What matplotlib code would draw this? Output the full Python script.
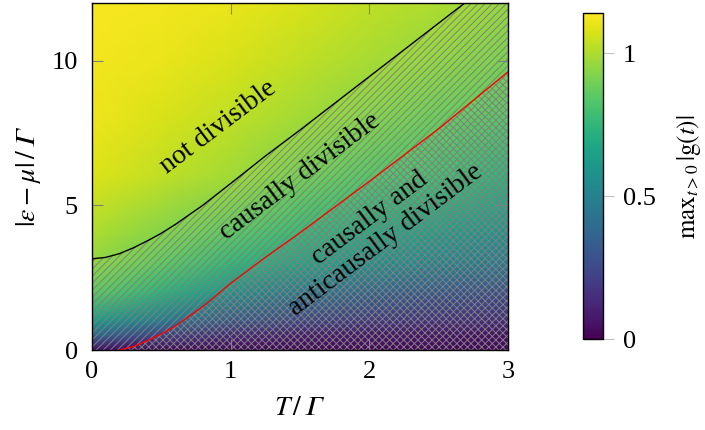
import numpy as np
import matplotlib
matplotlib.use("Agg")
import matplotlib.pyplot as plt

# ---- data ----
T_grid = [0.0, 0.5, 1.0, 1.5, 2.0, 2.5, 3.0]
E_grid = [0.0, 0.5, 1.0, 2.0, 3.0, 4.0, 6.0, 8.0, 10.0, 12.0]
gmax = [
    [0.05, 0.03, 0.02, 0.02, 0.02, 0.02, 0.02],
    [0.38, 0.22, 0.13, 0.09, 0.07, 0.06, 0.05],
    [0.62, 0.47, 0.32, 0.24, 0.19, 0.16, 0.14],
    [0.86, 0.74, 0.60, 0.48, 0.38, 0.32, 0.28],
    [0.95, 0.86, 0.76, 0.68, 0.60, 0.53, 0.47],
    [1.00, 0.93, 0.85, 0.77, 0.70, 0.64, 0.58],
    [1.08, 1.03, 0.98, 0.90, 0.84, 0.80, 0.74],
    [1.11, 1.07, 1.03, 0.98, 0.93, 0.88, 0.84],
    [1.12, 1.10, 1.07, 1.03, 0.99, 0.95, 0.91],
    [1.13, 1.12, 1.10, 1.07, 1.03, 1.00, 0.96],
]

T_bound = [0.0, 0.1, 0.2, 0.3, 0.4, 0.5, 0.6, 0.8, 1.0, 1.25, 1.5, 2.0, 2.5, 3.0]
causal_bound = [3.15, 3.2, 3.33, 3.53, 3.77, 4.03, 4.33, 5.0, 5.75, 6.7, 7.6, 9.45, 11.3, 13.15]
anticausal_bound = [0.0, 0.0, 0.0, 0.12, 0.32, 0.55, 0.82, 1.5, 2.3, 3.2, 4.05, 5.83, 7.65, 9.62]

x_ticks = [0, 1, 2, 3]
y_ticks = [0, 5, 10]
cbar_ticks = [0, 0.5, 1]
cbar_ticklabels = ["0", "0.5", "1"]

# ---- style ----
DPI = 85
K = 100.0 / DPI  # keep pixel sizes as designed for 100 dpi
plt.rcParams["font.family"] = ["Liberation Serif", "DejaVu Serif"]
plt.rcParams["mathtext.fontset"] = "stix"
plt.rcParams["hatch.linewidth"] = 0.7 * K
FS = 19 * K
FA = 20 * K

fig = plt.figure(figsize=(705 / DPI, 430 / DPI), dpi=DPI)
ax = fig.add_axes([0.130, 0.186, 0.591, 0.8077])
cax = fig.add_axes([0.827, 0.211, 0.0288, 0.758])

Tg, Eg = np.meshgrid(T_grid, E_grid)
mesh = ax.pcolormesh(Tg, Eg, np.array(gmax), cmap="viridis", vmin=0, vmax=1.14,
                     shading="gouraud", rasterized=True)

Tb = np.array(T_bound)
cb_ = np.array(causal_bound)
ab_ = np.array(anticausal_bound)

ax.fill_between(Tb, ab_, cb_, facecolor="none", edgecolor="gray", hatch="////", linewidth=0)
ax.fill_between(Tb, 0, ab_, facecolor="none", edgecolor="gray", hatch="xxxx", linewidth=0)

ax.plot(Tb, cb_, color="black", lw=1.0 * K)
m = Tb >= 0.2
ax.plot(Tb[m], ab_[m], color="red", lw=1.0 * K)

ax.set_xlim(0, 3)
ax.set_ylim(0, 12)
ax.set_xticks(x_ticks)
ax.set_yticks(y_ticks)
ax.tick_params(direction="in", length=8 * K, width=0.8 * K, color="gray", labelsize=FS,
               top=True, right=True)
ax.tick_params(axis="x", pad=8 * K)
ax.tick_params(axis="y", pad=10 * K)
for s in ax.spines.values():
    s.set_linewidth(1.0 * K)
ax.set_xlabel("$T\\,/\\,𝛤$", fontsize=FA, labelpad=9 * K)
ax.set_ylabel("$|\\varepsilon-\\mu|\\,/\\,𝛤$", fontsize=FA, labelpad=6 * K)

ax.text(0.91, 7.7, "not divisible", rotation=37, ha="center", va="center",
        fontsize=FA, rotation_mode="anchor")
ax.text(1.5, 6.0, "causally divisible", rotation=37, ha="center", va="center",
        fontsize=FA, rotation_mode="anchor")
ax.text(2.06, 4.17, "causally and\nanticausally divisible", rotation=37, ha="center",
        va="center", fontsize=FA, rotation_mode="anchor", linespacing=1.15,
        multialignment="center")

cb = fig.colorbar(mesh, cax=cax)
cb.set_ticks(cbar_ticks)
cb.set_ticklabels(cbar_ticklabels)
cb.outline.set_linewidth(1.0 * K)
cax.tick_params(direction="out", length=8 * K, width=0.8 * K, color="silver",
                labelsize=FS, pad=6 * K)
cb.set_label("$\\mathrm{max}_{t>0}\\,|\\mathrm{g}(t)|$", fontsize=18 * K, labelpad=14 * K)

fig.savefig("out.png", dpi=DPI)
